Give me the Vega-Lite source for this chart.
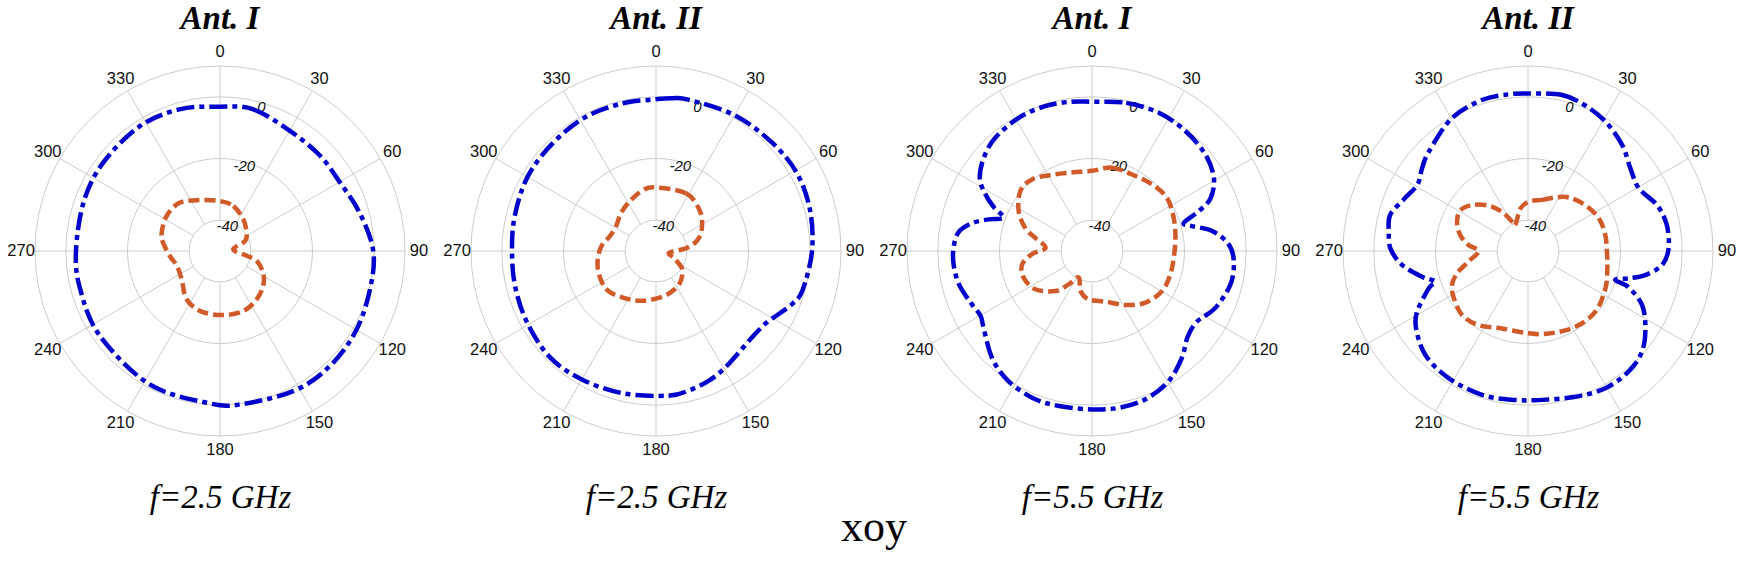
{
  "$schema": "https://vega.github.io/schema/vega-lite/v6.json",
  "background": "white",
  "padding": {"left": 2, "top": 3, "right": 0, "bottom": 0},
  "spacing": 0,
  "config": {
    "view": {"stroke": null},
    "axisX": {
      "domain": false, "ticks": false, "labels": false, "grid": false,
      "titleFont": "Liberation Serif", "titleFontStyle": "italic", "titleFontWeight": "normal",
      "titleFontSize": 33, "titleColor": "black", "titlePadding": 27
    },
    "title": {"font": "Liberation Serif", "fontStyle": "italic", "fontWeight": "bold", "fontSize": 33, "color": "black"}
  },
  "title": {"text": "xoy", "orient": "bottom", "anchor": "middle", "fontSize": 44, "fontStyle": "normal", "fontWeight": "normal", "offset": -8},
  "datasets": {
    "rings": [
      {"db": -40, "label": "-40"},
      {"db": -20, "label": "-20"},
      {"db": 0, "label": "0"},
      {"db": 10, "label": ""}
    ],
    "spokes": [
      {"a": 0}, {"a": 30}, {"a": 60}, {"a": 90}, {"a": 120}, {"a": 150},
      {"a": 180}, {"a": 210}, {"a": 240}, {"a": 270}, {"a": 300}, {"a": 330}
    ],
    "curves": [
      {"p":1,"s":"co","a":0,"v":-3.2},{"p":1,"s":"co","a":13,"v":-2.8},{"p":1,"s":"co","a":30,"v":-4.9},{"p":1,"s":"co","a":46,"v":-5.2},
      {"p":1,"s":"co","a":60,"v":-5.2},{"p":1,"s":"co","a":75,"v":-3},{"p":1,"s":"co","a":90,"v":-0.3},{"p":1,"s":"co","a":104,"v":0.2},
      {"p":1,"s":"co","a":120,"v":1.1},{"p":1,"s":"co","a":136,"v":1.6},{"p":1,"s":"co","a":152,"v":1.3},{"p":1,"s":"co","a":173,"v":0.2},
      {"p":1,"s":"co","a":185,"v":-0.6},{"p":1,"s":"co","a":208,"v":-1.1},{"p":1,"s":"co","a":235,"v":-2.3},{"p":1,"s":"co","a":255,"v":-3},
      {"p":1,"s":"co","a":270,"v":-3.3},{"p":1,"s":"co","a":290,"v":-3},{"p":1,"s":"co","a":307,"v":-2.5},{"p":1,"s":"co","a":327,"v":-1.9},
      {"p":1,"s":"co","a":344,"v":-2.2},

      {"p":1,"s":"cx","a":0,"v":-33.8},{"p":1,"s":"cx","a":16.5,"v":-34.8},{"p":1,"s":"cx","a":36,"v":-37.2},{"p":1,"s":"cx","a":55,"v":-39.5},
      {"p":1,"s":"cx","a":68,"v":-41.2},{"p":1,"s":"cx","a":83,"v":-45.7},{"p":1,"s":"cx","a":100,"v":-41.2},{"p":1,"s":"cx","a":105,"v":-37.7},
      {"p":1,"s":"cx","a":117,"v":-34.3},{"p":1,"s":"cx","a":129,"v":-32},{"p":1,"s":"cx","a":143,"v":-30.3},{"p":1,"s":"cx","a":159,"v":-29.1},
      {"p":1,"s":"cx","a":178,"v":-29.2},{"p":1,"s":"cx","a":198,"v":-29.5},{"p":1,"s":"cx","a":215,"v":-31},{"p":1,"s":"cx","a":233,"v":-34.5},
      {"p":1,"s":"cx","a":251,"v":-35.2},{"p":1,"s":"cx","a":264,"v":-33.7},{"p":1,"s":"cx","a":278,"v":-31.4},{"p":1,"s":"cx","a":287,"v":-30.2},
      {"p":1,"s":"cx","a":303,"v":-29.3},{"p":1,"s":"cx","a":320,"v":-29.6},{"p":1,"s":"cx","a":339,"v":-32.3},

      {"p":2,"s":"co","a":0,"v":-0.8},{"p":2,"s":"co","a":6,"v":-0.2},{"p":2,"s":"co","a":12,"v":0.2},{"p":2,"s":"co","a":30,"v":0.9},
      {"p":2,"s":"co","a":47,"v":1.5},{"p":2,"s":"co","a":61,"v":2.2},{"p":2,"s":"co","a":75,"v":1.7},{"p":2,"s":"co","a":90,"v":0.6},
      {"p":2,"s":"co","a":105,"v":-0.8},{"p":2,"s":"co","a":111,"v":-2.5},{"p":2,"s":"co","a":117,"v":-5.2},{"p":2,"s":"co","a":123,"v":-7.3},
      {"p":2,"s":"co","a":131,"v":-8.1},{"p":2,"s":"co","a":140,"v":-7.6},{"p":2,"s":"co","a":149,"v":-6.1},{"p":2,"s":"co","a":157,"v":-4.7},
      {"p":2,"s":"co","a":166,"v":-3.6},{"p":2,"s":"co","a":175,"v":-2.9},{"p":2,"s":"co","a":193,"v":-2.6},{"p":2,"s":"co","a":210,"v":-1.9},
      {"p":2,"s":"co","a":225,"v":-1.3},{"p":2,"s":"co","a":241,"v":-2.2},{"p":2,"s":"co","a":256,"v":-2.9},{"p":2,"s":"co","a":270,"v":-3.3},
      {"p":2,"s":"co","a":284,"v":-2.8},{"p":2,"s":"co","a":300,"v":-1.9},{"p":2,"s":"co","a":316,"v":-1.6},{"p":2,"s":"co","a":332,"v":-0.9},
      {"p":2,"s":"co","a":347,"v":-0.9},

      {"p":2,"s":"cx","a":0,"v":-29.4},{"p":2,"s":"cx","a":27.5,"v":-28.9},{"p":2,"s":"cx","a":46.6,"v":-30.6},{"p":2,"s":"cx","a":62,"v":-33.1},
      {"p":2,"s":"cx","a":75,"v":-36},{"p":2,"s":"cx","a":85,"v":-40.3},{"p":2,"s":"cx","a":97,"v":-45.7},{"p":2,"s":"cx","a":112,"v":-43.6},
      {"p":2,"s":"cx","a":124,"v":-39.8},{"p":2,"s":"cx","a":139,"v":-37.6},{"p":2,"s":"cx","a":152,"v":-36.3},{"p":2,"s":"cx","a":172,"v":-35},
      {"p":2,"s":"cx","a":195,"v":-33.3},{"p":2,"s":"cx","a":212,"v":-31.8},{"p":2,"s":"cx","a":229,"v":-29.9},{"p":2,"s":"cx","a":242,"v":-29.8},
      {"p":2,"s":"cx","a":258,"v":-30.6},{"p":2,"s":"cx","a":274,"v":-32.1},{"p":2,"s":"cx","a":287,"v":-34.2},{"p":2,"s":"cx","a":301,"v":-34.8},
      {"p":2,"s":"cx","a":317,"v":-33.3},{"p":2,"s":"cx","a":332,"v":-31.8},{"p":2,"s":"cx","a":348,"v":-29.8},

      {"p":3,"s":"co","a":0,"v":-1.6},{"p":3,"s":"co","a":13,"v":-0.7},{"p":3,"s":"co","a":26,"v":-0.2},{"p":3,"s":"co","a":38,"v":-0.7},
      {"p":3,"s":"co","a":49.5,"v":-1.7},{"p":3,"s":"co","a":59,"v":-3.9},{"p":3,"s":"co","a":66,"v":-7.9},{"p":3,"s":"co","a":69.5,"v":-13},
      {"p":3,"s":"co","a":73,"v":-18.9},{"p":3,"s":"co","a":76,"v":-16.6},{"p":3,"s":"co","a":80.5,"v":-10.5},{"p":3,"s":"co","a":87,"v":-5.7},
      {"p":3,"s":"co","a":94,"v":-3.9},{"p":3,"s":"co","a":103.5,"v":-3.8},{"p":3,"s":"co","a":115,"v":-6},{"p":3,"s":"co","a":124,"v":-9},
      {"p":3,"s":"co","a":132,"v":-8.3},{"p":3,"s":"co","a":140,"v":-4.7},{"p":3,"s":"co","a":149.5,"v":-1},{"p":3,"s":"co","a":160,"v":1.1},
      {"p":3,"s":"co","a":170,"v":1.6},{"p":3,"s":"co","a":180,"v":1.4},{"p":3,"s":"co","a":192,"v":1.4},{"p":3,"s":"co","a":202,"v":1.4},
      {"p":3,"s":"co","a":213,"v":0.1},{"p":3,"s":"co","a":223,"v":-2.5},{"p":3,"s":"co","a":235,"v":-7},{"p":3,"s":"co","a":240,"v":-8.2},
      {"p":3,"s":"co","a":247,"v":-7.2},{"p":3,"s":"co","a":256,"v":-5.5},{"p":3,"s":"co","a":264.5,"v":-4.9},{"p":3,"s":"co","a":271.5,"v":-5.1},
      {"p":3,"s":"co","a":278,"v":-6.3},{"p":3,"s":"co","a":283,"v":-10},{"p":3,"s":"co","a":287,"v":-14.9},{"p":3,"s":"co","a":290.7,"v":-19.4},
      {"p":3,"s":"co","a":294,"v":-15.2},{"p":3,"s":"co","a":298,"v":-10.9},{"p":3,"s":"co","a":303,"v":-6.6},{"p":3,"s":"co","a":311,"v":-3.6},
      {"p":3,"s":"co","a":319.5,"v":-1.7},{"p":3,"s":"co","a":331,"v":-0.7},{"p":3,"s":"co","a":342,"v":-0.6},{"p":3,"s":"co","a":352,"v":-1.1},

      {"p":3,"s":"cx","a":0,"v":-24},{"p":3,"s":"cx","a":13.5,"v":-22.2},{"p":3,"s":"cx","a":27.6,"v":-22},{"p":3,"s":"cx","a":42,"v":-20.9},
      {"p":3,"s":"cx","a":54.6,"v":-20.2},{"p":3,"s":"cx","a":67.8,"v":-21.4},{"p":3,"s":"cx","a":81,"v":-22.6},{"p":3,"s":"cx","a":94.7,"v":-23.4},
      {"p":3,"s":"cx","a":106.6,"v":-23.5},{"p":3,"s":"cx","a":119.7,"v":-23.8},{"p":3,"s":"cx","a":134,"v":-25.9},{"p":3,"s":"cx","a":148.3,"v":-29.4},
      {"p":3,"s":"cx","a":165,"v":-33},{"p":3,"s":"cx","a":184,"v":-34.3},{"p":3,"s":"cx","a":196,"v":-36.5},{"p":3,"s":"cx","a":206.6,"v":-40.4},
      {"p":3,"s":"cx","a":215,"v":-36.8},{"p":3,"s":"cx","a":222.5,"v":-32.4},{"p":3,"s":"cx","a":236,"v":-27.8},{"p":3,"s":"cx","a":248.7,"v":-26.2},
      {"p":3,"s":"cx","a":259,"v":-26.9},{"p":3,"s":"cx","a":267,"v":-30.5},{"p":3,"s":"cx","a":274,"v":-34.9},{"p":3,"s":"cx","a":283,"v":-31.1},
      {"p":3,"s":"cx","a":289,"v":-27.1},{"p":3,"s":"cx","a":298.6,"v":-22.9},{"p":3,"s":"cx","a":310,"v":-19.7},{"p":3,"s":"cx","a":320,"v":-19.7},
      {"p":3,"s":"cx","a":332,"v":-22},{"p":3,"s":"cx","a":345.7,"v":-23.7},

      {"p":4,"s":"co","a":0,"v":1.1},{"p":4,"s":"co","a":12,"v":1.8},{"p":4,"s":"co","a":21,"v":0.8},{"p":4,"s":"co","a":31,"v":-1.1},
      {"p":4,"s":"co","a":41.6,"v":-4},{"p":4,"s":"co","a":51,"v":-7.3},{"p":4,"s":"co","a":60.5,"v":-8.7},{"p":4,"s":"co","a":70.4,"v":-5.6},
      {"p":4,"s":"co","a":79.4,"v":-4.2},{"p":4,"s":"co","a":89,"v":-4.4},{"p":4,"s":"co","a":96,"v":-6.3},{"p":4,"s":"co","a":101.6,"v":-11.2},
      {"p":4,"s":"co","a":105.2,"v":-16.2},{"p":4,"s":"co","a":108.4,"v":-20.2},{"p":4,"s":"co","a":109.8,"v":-15.4},{"p":4,"s":"co","a":115.3,"v":-9.1},
      {"p":4,"s":"co","a":123.4,"v":-4.4},{"p":4,"s":"co","a":131.4,"v":-0.7},{"p":4,"s":"co","a":140,"v":0.9},{"p":4,"s":"co","a":150.6,"v":1.1},
      {"p":4,"s":"co","a":162,"v":-0.3},{"p":4,"s":"co","a":174.6,"v":-1.5},{"p":4,"s":"co","a":185,"v":-1.5},{"p":4,"s":"co","a":197.7,"v":-1},
      {"p":4,"s":"co","a":212,"v":-1.4},{"p":4,"s":"co","a":224.6,"v":-2.6},{"p":4,"s":"co","a":235.4,"v":-5.9},{"p":4,"s":"co","a":241.3,"v":-9},
      {"p":4,"s":"co","a":249.4,"v":-15.6},{"p":4,"s":"co","a":251.7,"v":-18.3},{"p":4,"s":"co","a":256.4,"v":-14.6},{"p":4,"s":"co","a":263.7,"v":-8.9},
      {"p":4,"s":"co","a":271,"v":-5.4},{"p":4,"s":"co","a":278,"v":-4.4},{"p":4,"s":"co","a":284.7,"v":-3.8},{"p":4,"s":"co","a":293,"v":-6.5},
      {"p":4,"s":"co","a":301,"v":-8.2},{"p":4,"s":"co","a":308,"v":-6.4},{"p":4,"s":"co","a":315,"v":-4.5},{"p":4,"s":"co","a":330,"v":-0.4},
      {"p":4,"s":"co","a":343,"v":1.2},{"p":4,"s":"co","a":353,"v":1.2},

      {"p":4,"s":"cx","a":0.8,"v":-34},{"p":4,"s":"cx","a":15.4,"v":-32.8},{"p":4,"s":"cx","a":27,"v":-30.5},{"p":4,"s":"cx","a":37.2,"v":-28.2},
      {"p":4,"s":"cx","a":51.3,"v":-26.2},{"p":4,"s":"cx","a":65.2,"v":-24.7},{"p":4,"s":"cx","a":78.3,"v":-24.4},{"p":4,"s":"cx","a":90.5,"v":-24.4},
      {"p":4,"s":"cx","a":102,"v":-23.7},{"p":4,"s":"cx","a":115.8,"v":-22.1},{"p":4,"s":"cx","a":132,"v":-20.6},{"p":4,"s":"cx","a":148,"v":-21},
      {"p":4,"s":"cx","a":166,"v":-22.4},{"p":4,"s":"cx","a":180,"v":-23.3},{"p":4,"s":"cx","a":198.6,"v":-23.5},{"p":4,"s":"cx","a":213.7,"v":-21.1},
      {"p":4,"s":"cx","a":225.9,"v":-20.2},{"p":4,"s":"cx","a":237.5,"v":-21.5},{"p":4,"s":"cx","a":246,"v":-23},{"p":4,"s":"cx","a":252.5,"v":-25.9},
      {"p":4,"s":"cx","a":260,"v":-30.4},{"p":4,"s":"cx","a":270,"v":-34},{"p":4,"s":"cx","a":275.8,"v":-30.6},{"p":4,"s":"cx","a":283.3,"v":-27.4},
      {"p":4,"s":"cx","a":292.4,"v":-25.1},{"p":4,"s":"cx","a":301,"v":-24.4},{"p":4,"s":"cx","a":309.4,"v":-26.5},{"p":4,"s":"cx","a":319,"v":-30.5},
      {"p":4,"s":"cx","a":326.5,"v":-34.8},{"p":4,"s":"cx","a":331.4,"v":-39.2},{"p":4,"s":"cx","a":334,"v":-40.6},{"p":4,"s":"cx","a":350,"v":-36}
    ]
  },
  "hconcat": [
    {
      "width": 436, "height": 406,
      "title": {"text": "Ant. I", "offset": 8},
      "layer": [
        {
          "data": {"name": "rings"},
          "transform": [{"calculate": "datum.db + 50", "as": "r"}],
          "mark": {"type": "arc", "theta": 0, "theta2": 6.2832, "fillOpacity": 0, "stroke": "#cccccc", "strokeWidth": 1},
          "encoding": {"radius": {"field": "r", "type": "quantitative", "stack": null, "scale": {"type": "linear", "domain": [0, 70.7], "range": [0, 218]}}}
        },
        {
          "data": {"name": "spokes"},
          "transform": [
            {"calculate": "10 * sin(datum.a * PI / 180)", "as": "x"},
            {"calculate": "10 * cos(datum.a * PI / 180)", "as": "y"},
            {"calculate": "60 * sin(datum.a * PI / 180)", "as": "x2"},
            {"calculate": "60 * cos(datum.a * PI / 180)", "as": "y2"}
          ],
          "mark": {"type": "rule", "color": "#cccccc", "strokeWidth": 1},
          "encoding": {
            "x": {"field": "x", "type": "quantitative", "title": "f=2.5 GHz", "scale": {"domain": [-70.7, 70.7], "nice": false, "zero": false}},
            "y": {"field": "y", "type": "quantitative", "scale": {"domain": [-65.84, 65.84], "nice": false, "zero": false}, "axis": null},
            "x2": {"field": "x2"}, "y2": {"field": "y2"}
          }
        },
        {
          "data": {"name": "spokes"},
          "transform": [
            {"calculate": "64.5 * sin(datum.a * PI / 180)", "as": "x"},
            {"calculate": "64.5 * cos(datum.a * PI / 180)", "as": "y"}
          ],
          "mark": {"type": "text", "font": "Liberation Sans", "fontSize": 16.5, "color": "#111111", "align": "center", "baseline": "middle"},
          "encoding": {
            "x": {"field": "x", "type": "quantitative", "title": "f=2.5 GHz"},
            "y": {"field": "y", "type": "quantitative", "axis": null},
            "text": {"field": "a", "type": "quantitative"}
          }
        },
        {
          "data": {"name": "rings"},
          "transform": [
            {"filter": "datum.label != ''"},
            {"calculate": "(datum.db + 48.6) * sin(16 * PI / 180)", "as": "x"},
            {"calculate": "(datum.db + 48.6) * cos(16 * PI / 180)", "as": "y"}
          ],
          "mark": {"type": "text", "font": "Liberation Sans", "fontStyle": "italic", "fontSize": 15, "color": "#111111", "align": "center", "baseline": "middle"},
          "encoding": {
            "x": {"field": "x", "type": "quantitative", "title": "f=2.5 GHz"},
            "y": {"field": "y", "type": "quantitative", "axis": null},
            "text": {"field": "label", "type": "nominal"}
          }
        },
        {
          "data": {"name": "curves"},
          "transform": [
            {"filter": "datum.p == 1"},
            {"calculate": "(datum.v + 50) * sin(datum.a * PI / 180)", "as": "x"},
            {"calculate": "(datum.v + 50) * cos(datum.a * PI / 180)", "as": "y"}
          ],
          "mark": {"type": "line", "interpolate": "cardinal-closed", "strokeWidth": 4.5},
          "encoding": {
            "x": {"field": "x", "type": "quantitative", "title": "f=2.5 GHz"},
            "y": {"field": "y", "type": "quantitative", "axis": null},
            "order": {"field": "a", "type": "quantitative"},
            "color": {"field": "s", "type": "nominal", "scale": {"domain": ["co", "cx"], "range": ["#0000cd", "#d05a28"]}, "legend": null},
            "strokeDash": {"field": "s", "type": "nominal", "scale": {"domain": ["co", "cx"], "range": [[18, 5, 5, 5], [11, 5]]}, "legend": null}
          }
        }
      ]
    },
    {
      "width": 436, "height": 406,
      "title": {"text": "Ant. II", "offset": 8},
      "layer": [
        {
          "data": {"name": "rings"},
          "transform": [{"calculate": "datum.db + 50", "as": "r"}],
          "mark": {"type": "arc", "theta": 0, "theta2": 6.2832, "fillOpacity": 0, "stroke": "#cccccc", "strokeWidth": 1},
          "encoding": {"radius": {"field": "r", "type": "quantitative", "stack": null, "scale": {"type": "linear", "domain": [0, 70.7], "range": [0, 218]}}}
        },
        {
          "data": {"name": "spokes"},
          "transform": [
            {"calculate": "10 * sin(datum.a * PI / 180)", "as": "x"},
            {"calculate": "10 * cos(datum.a * PI / 180)", "as": "y"},
            {"calculate": "60 * sin(datum.a * PI / 180)", "as": "x2"},
            {"calculate": "60 * cos(datum.a * PI / 180)", "as": "y2"}
          ],
          "mark": {"type": "rule", "color": "#cccccc", "strokeWidth": 1},
          "encoding": {
            "x": {"field": "x", "type": "quantitative", "title": "f=2.5 GHz", "scale": {"domain": [-70.7, 70.7], "nice": false, "zero": false}},
            "y": {"field": "y", "type": "quantitative", "scale": {"domain": [-65.84, 65.84], "nice": false, "zero": false}, "axis": null},
            "x2": {"field": "x2"}, "y2": {"field": "y2"}
          }
        },
        {
          "data": {"name": "spokes"},
          "transform": [
            {"calculate": "64.5 * sin(datum.a * PI / 180)", "as": "x"},
            {"calculate": "64.5 * cos(datum.a * PI / 180)", "as": "y"}
          ],
          "mark": {"type": "text", "font": "Liberation Sans", "fontSize": 16.5, "color": "#111111", "align": "center", "baseline": "middle"},
          "encoding": {
            "x": {"field": "x", "type": "quantitative", "title": "f=2.5 GHz"},
            "y": {"field": "y", "type": "quantitative", "axis": null},
            "text": {"field": "a", "type": "quantitative"}
          }
        },
        {
          "data": {"name": "rings"},
          "transform": [
            {"filter": "datum.label != ''"},
            {"calculate": "(datum.db + 48.6) * sin(16 * PI / 180)", "as": "x"},
            {"calculate": "(datum.db + 48.6) * cos(16 * PI / 180)", "as": "y"}
          ],
          "mark": {"type": "text", "font": "Liberation Sans", "fontStyle": "italic", "fontSize": 15, "color": "#111111", "align": "center", "baseline": "middle"},
          "encoding": {
            "x": {"field": "x", "type": "quantitative", "title": "f=2.5 GHz"},
            "y": {"field": "y", "type": "quantitative", "axis": null},
            "text": {"field": "label", "type": "nominal"}
          }
        },
        {
          "data": {"name": "curves"},
          "transform": [
            {"filter": "datum.p == 2"},
            {"calculate": "(datum.v + 50) * sin(datum.a * PI / 180)", "as": "x"},
            {"calculate": "(datum.v + 50) * cos(datum.a * PI / 180)", "as": "y"}
          ],
          "mark": {"type": "line", "interpolate": "cardinal-closed", "strokeWidth": 4.5},
          "encoding": {
            "x": {"field": "x", "type": "quantitative", "title": "f=2.5 GHz"},
            "y": {"field": "y", "type": "quantitative", "axis": null},
            "order": {"field": "a", "type": "quantitative"},
            "color": {"field": "s", "type": "nominal", "scale": {"domain": ["co", "cx"], "range": ["#0000cd", "#d05a28"]}, "legend": null},
            "strokeDash": {"field": "s", "type": "nominal", "scale": {"domain": ["co", "cx"], "range": [[18, 5, 5, 5], [11, 5]]}, "legend": null}
          }
        }
      ]
    },
    {
      "width": 436, "height": 406,
      "title": {"text": "Ant. I", "offset": 8},
      "layer": [
        {
          "data": {"name": "rings"},
          "transform": [{"calculate": "datum.db + 50", "as": "r"}],
          "mark": {"type": "arc", "theta": 0, "theta2": 6.2832, "fillOpacity": 0, "stroke": "#cccccc", "strokeWidth": 1},
          "encoding": {"radius": {"field": "r", "type": "quantitative", "stack": null, "scale": {"type": "linear", "domain": [0, 70.7], "range": [0, 218]}}}
        },
        {
          "data": {"name": "spokes"},
          "transform": [
            {"calculate": "10 * sin(datum.a * PI / 180)", "as": "x"},
            {"calculate": "10 * cos(datum.a * PI / 180)", "as": "y"},
            {"calculate": "60 * sin(datum.a * PI / 180)", "as": "x2"},
            {"calculate": "60 * cos(datum.a * PI / 180)", "as": "y2"}
          ],
          "mark": {"type": "rule", "color": "#cccccc", "strokeWidth": 1},
          "encoding": {
            "x": {"field": "x", "type": "quantitative", "title": "f=5.5 GHz", "scale": {"domain": [-70.7, 70.7], "nice": false, "zero": false}},
            "y": {"field": "y", "type": "quantitative", "scale": {"domain": [-65.84, 65.84], "nice": false, "zero": false}, "axis": null},
            "x2": {"field": "x2"}, "y2": {"field": "y2"}
          }
        },
        {
          "data": {"name": "spokes"},
          "transform": [
            {"calculate": "64.5 * sin(datum.a * PI / 180)", "as": "x"},
            {"calculate": "64.5 * cos(datum.a * PI / 180)", "as": "y"}
          ],
          "mark": {"type": "text", "font": "Liberation Sans", "fontSize": 16.5, "color": "#111111", "align": "center", "baseline": "middle"},
          "encoding": {
            "x": {"field": "x", "type": "quantitative", "title": "f=5.5 GHz"},
            "y": {"field": "y", "type": "quantitative", "axis": null},
            "text": {"field": "a", "type": "quantitative"}
          }
        },
        {
          "data": {"name": "rings"},
          "transform": [
            {"filter": "datum.label != ''"},
            {"calculate": "(datum.db + 48.6) * sin(16 * PI / 180)", "as": "x"},
            {"calculate": "(datum.db + 48.6) * cos(16 * PI / 180)", "as": "y"}
          ],
          "mark": {"type": "text", "font": "Liberation Sans", "fontStyle": "italic", "fontSize": 15, "color": "#111111", "align": "center", "baseline": "middle"},
          "encoding": {
            "x": {"field": "x", "type": "quantitative", "title": "f=5.5 GHz"},
            "y": {"field": "y", "type": "quantitative", "axis": null},
            "text": {"field": "label", "type": "nominal"}
          }
        },
        {
          "data": {"name": "curves"},
          "transform": [
            {"filter": "datum.p == 3"},
            {"calculate": "(datum.v + 50) * sin(datum.a * PI / 180)", "as": "x"},
            {"calculate": "(datum.v + 50) * cos(datum.a * PI / 180)", "as": "y"}
          ],
          "mark": {"type": "line", "interpolate": "cardinal-closed", "strokeWidth": 4.5},
          "encoding": {
            "x": {"field": "x", "type": "quantitative", "title": "f=5.5 GHz"},
            "y": {"field": "y", "type": "quantitative", "axis": null},
            "order": {"field": "a", "type": "quantitative"},
            "color": {"field": "s", "type": "nominal", "scale": {"domain": ["co", "cx"], "range": ["#0000cd", "#d05a28"]}, "legend": null},
            "strokeDash": {"field": "s", "type": "nominal", "scale": {"domain": ["co", "cx"], "range": [[18, 5, 5, 5], [11, 5]]}, "legend": null}
          }
        }
      ]
    },
    {
      "width": 436, "height": 406,
      "title": {"text": "Ant. II", "offset": 8},
      "layer": [
        {
          "data": {"name": "rings"},
          "transform": [{"calculate": "datum.db + 50", "as": "r"}],
          "mark": {"type": "arc", "theta": 0, "theta2": 6.2832, "fillOpacity": 0, "stroke": "#cccccc", "strokeWidth": 1},
          "encoding": {"radius": {"field": "r", "type": "quantitative", "stack": null, "scale": {"type": "linear", "domain": [0, 70.7], "range": [0, 218]}}}
        },
        {
          "data": {"name": "spokes"},
          "transform": [
            {"calculate": "10 * sin(datum.a * PI / 180)", "as": "x"},
            {"calculate": "10 * cos(datum.a * PI / 180)", "as": "y"},
            {"calculate": "60 * sin(datum.a * PI / 180)", "as": "x2"},
            {"calculate": "60 * cos(datum.a * PI / 180)", "as": "y2"}
          ],
          "mark": {"type": "rule", "color": "#cccccc", "strokeWidth": 1},
          "encoding": {
            "x": {"field": "x", "type": "quantitative", "title": "f=5.5 GHz", "scale": {"domain": [-70.7, 70.7], "nice": false, "zero": false}},
            "y": {"field": "y", "type": "quantitative", "scale": {"domain": [-65.84, 65.84], "nice": false, "zero": false}, "axis": null},
            "x2": {"field": "x2"}, "y2": {"field": "y2"}
          }
        },
        {
          "data": {"name": "spokes"},
          "transform": [
            {"calculate": "64.5 * sin(datum.a * PI / 180)", "as": "x"},
            {"calculate": "64.5 * cos(datum.a * PI / 180)", "as": "y"}
          ],
          "mark": {"type": "text", "font": "Liberation Sans", "fontSize": 16.5, "color": "#111111", "align": "center", "baseline": "middle"},
          "encoding": {
            "x": {"field": "x", "type": "quantitative", "title": "f=5.5 GHz"},
            "y": {"field": "y", "type": "quantitative", "axis": null},
            "text": {"field": "a", "type": "quantitative"}
          }
        },
        {
          "data": {"name": "rings"},
          "transform": [
            {"filter": "datum.label != ''"},
            {"calculate": "(datum.db + 48.6) * sin(16 * PI / 180)", "as": "x"},
            {"calculate": "(datum.db + 48.6) * cos(16 * PI / 180)", "as": "y"}
          ],
          "mark": {"type": "text", "font": "Liberation Sans", "fontStyle": "italic", "fontSize": 15, "color": "#111111", "align": "center", "baseline": "middle"},
          "encoding": {
            "x": {"field": "x", "type": "quantitative", "title": "f=5.5 GHz"},
            "y": {"field": "y", "type": "quantitative", "axis": null},
            "text": {"field": "label", "type": "nominal"}
          }
        },
        {
          "data": {"name": "curves"},
          "transform": [
            {"filter": "datum.p == 4"},
            {"calculate": "(datum.v + 50) * sin(datum.a * PI / 180)", "as": "x"},
            {"calculate": "(datum.v + 50) * cos(datum.a * PI / 180)", "as": "y"}
          ],
          "mark": {"type": "line", "interpolate": "cardinal-closed", "strokeWidth": 4.5},
          "encoding": {
            "x": {"field": "x", "type": "quantitative", "title": "f=5.5 GHz"},
            "y": {"field": "y", "type": "quantitative", "axis": null},
            "order": {"field": "a", "type": "quantitative"},
            "color": {"field": "s", "type": "nominal", "scale": {"domain": ["co", "cx"], "range": ["#0000cd", "#d05a28"]}, "legend": null},
            "strokeDash": {"field": "s", "type": "nominal", "scale": {"domain": ["co", "cx"], "range": [[18, 5, 5, 5], [11, 5]]}, "legend": null}
          }
        }
      ]
    }
  ]
}
